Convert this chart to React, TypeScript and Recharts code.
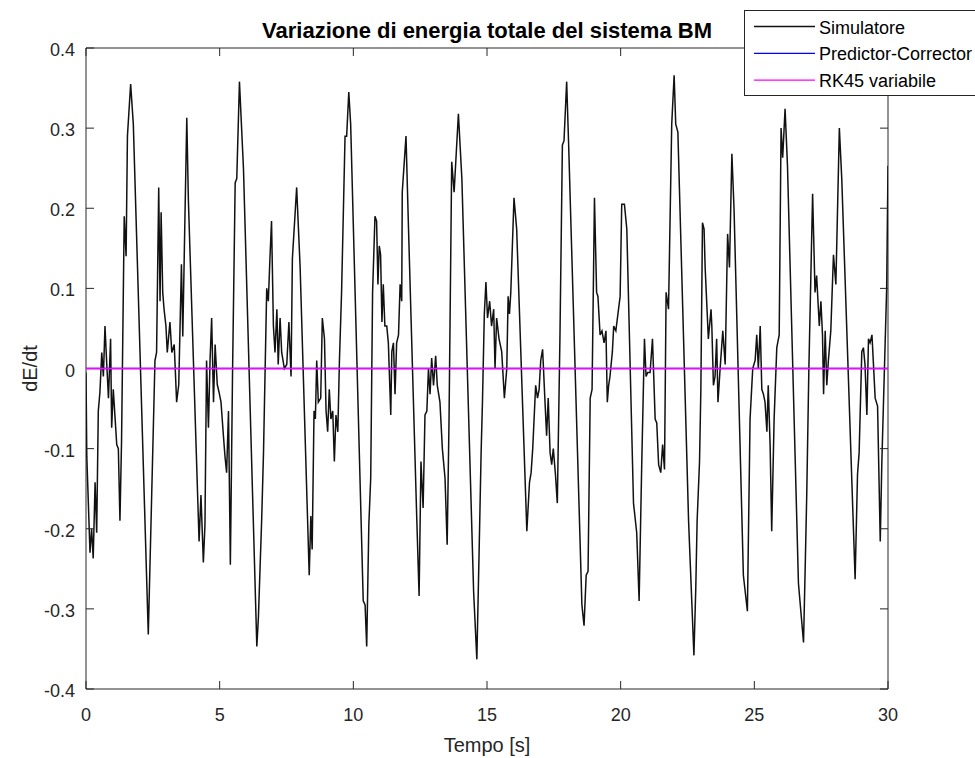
import React from "react";
import { LineChart, Line, XAxis, YAxis, Legend, Label, ReferenceArea } from "recharts";

// ---- data ----
const simTime = [
  0, 0.03, 0.15, 0.21, 0.27, 0.34, 0.4, 0.46, 0.52, 0.59, 0.65, 0.71, 0.77, 0.84, 0.92, 0.96, 1.02, 1.15, 1.21, 1.27, 1.33, 1.43, 1.5, 1.55, 1.67, 1.77, 2.33, 2.58, 2.64, 2.72, 2.77, 2.81, 2.87, 2.92, 2.99, 3.04, 3.14, 3.21, 3.3, 3.39, 3.47, 3.57, 3.62, 3.77,
  3.83, 4.23, 4.3, 4.39, 4.45, 4.51, 4.58, 4.64, 4.7, 4.77, 4.83, 4.91, 4.98, 5.05, 5.14, 5.2, 5.26, 5.33, 5.4, 5.48, 5.58, 5.64, 5.74, 5.89, 6.39, 6.45, 6.57, 6.64, 6.76, 6.82, 6.88, 6.94, 7.01, 7.07, 7.14, 7.19, 7.26, 7.32, 7.42, 7.51, 7.59, 7.67, 7.72,
  7.88, 8.01, 8.35, 8.41, 8.46, 8.53, 8.58, 8.63, 8.69, 8.78, 8.84, 8.92, 8.98, 9.04, 9.1, 9.16, 9.23, 9.29, 9.35, 9.42, 9.48, 9.56, 9.69, 9.75, 9.83, 9.9, 10.37, 10.44, 10.5, 10.58, 10.65, 10.72, 10.81, 10.87, 10.92, 10.97, 11.02, 11.07, 11.12, 11.18, 11.25, 11.31, 11.4, 11.44, 11.5, 11.56, 11.62, 11.69, 11.75,
  11.81, 11.83, 11.97, 12.06, 12.37, 12.46, 12.53, 12.61, 12.68, 12.75, 12.81, 12.87, 12.93, 13.0, 13.08, 13.14, 13.24, 13.33, 13.43, 13.51, 13.58, 13.68, 13.77, 13.93, 14.06, 14.5, 14.62, 14.71, 14.78, 14.83, 14.9, 14.96, 15.02, 15.1, 15.17, 15.25, 15.3, 15.36, 15.45, 15.55, 15.65,
  15.74, 15.79, 15.84, 15.89, 16.01, 16.11, 16.49, 16.59, 16.65, 16.71, 16.82, 16.89, 16.95, 17.01, 17.08, 17.17, 17.23, 17.29, 17.36, 17.42, 17.48, 17.56, 17.63, 17.73, 17.82, 17.88, 17.98, 18.05, 18.55, 18.63, 18.71, 18.78, 18.86, 18.93, 19.02, 19.1, 19.15, 19.23, 19.3, 19.38, 19.45, 19.5, 19.55,
  19.6, 19.69, 19.74, 19.82, 19.92, 19.98, 20.04, 20.14, 20.23, 20.48, 20.6, 20.69, 20.79, 20.89, 20.95, 21.01, 21.1, 21.19, 21.29, 21.35, 21.42, 21.5, 21.57, 21.64, 21.7, 21.79, 21.91, 22.0, 22.06, 22.14, 22.54, 22.74, 22.81, 22.86, 22.95, 23.0, 23.06, 23.12, 23.16, 23.28, 23.38,
  23.41, 23.47, 23.53, 23.59, 23.64, 23.72, 23.82, 23.91, 24.0, 24.07, 24.16, 24.24, 24.59, 24.74, 24.84, 24.94, 25.03, 25.09, 25.15, 25.22, 25.28, 25.34, 25.4, 25.47, 25.52, 25.59, 25.65, 25.74, 25.84, 25.93, 26.0, 26.06, 26.15, 26.24, 26.65, 26.84, 26.91, 26.96, 27.04, 27.18, 27.27, 27.33, 27.43,
  27.49, 27.55, 27.59, 27.65, 27.71, 27.77, 27.86, 27.96, 28.05, 28.18, 28.27, 28.77, 28.86, 28.92, 29.02, 29.08, 29.14, 29.21, 29.27, 29.33, 29.4, 29.52, 29.61, 29.71, 29.77, 29.95, 30.0,
];
const simValue = [
  -0.005, -0.11, -0.23, -0.2, -0.237, -0.142, -0.205, -0.053, -0.03, 0.02, -0.01, 0.053, 0.01, -0.037, 0.037, -0.074, -0.026, -0.095, -0.1, -0.19, -0.09, 0.19, 0.14, 0.29, 0.355, 0.305, -0.332, 0.01, 0.02, 0.226, 0.084, 0.195, 0.095, 0.074, 0.053, 0.02, 0.058, 0.02, 0.03, -0.042, -0.02, 0.13, 0.04, 0.313,
  0.21, -0.216, -0.158, -0.242, -0.195, 0.01, -0.074, 0.01, 0.063, -0.042, 0.03, -0.02, -0.03, -0.042, -0.084, -0.11, -0.13, -0.053, -0.245, -0.01, 0.232, 0.237, 0.358, 0.25, -0.347, -0.31, -0.19, -0.105, 0.1, 0.084, 0.137, 0.184, 0.053, 0.02, 0.074, 0.005, 0.063, 0.02, 0, 0.005, 0.058, -0.01, 0.137,
  0.226, 0.126, -0.258, -0.184, -0.226, -0.053, -0.063, 0.01, -0.042, -0.037, 0.063, 0.037, -0.053, -0.079, -0.026, -0.063, -0.053, -0.116, -0.058, -0.079, 0.01, 0.095, 0.29, 0.29, 0.345, 0.305, -0.29, -0.295, -0.347, -0.195, -0.137, 0.095, 0.19, 0.184, 0.105, 0.153, 0.142, 0.058, 0.105, 0.053, 0.053, 0.032, -0.058, 0.021, 0.032, -0.032, 0.032, 0.042, 0.105,
  0.084, 0.22, 0.29, 0.179, -0.184, -0.284, -0.116, -0.174, -0.058, -0.053, 0, -0.032, 0.013, -0.021, 0.016, -0.021, -0.042, -0.1, -0.137, -0.22, -0.063, 0.258, 0.22, 0.318, 0.237, -0.279, -0.363, -0.22, -0.105, -0.042, 0.068, 0.108, 0.063, 0.084, 0.053, 0.074, 0, 0.063, 0.037, 0.021, -0.037,
  0, 0.09, 0.068, 0.095, 0.213, 0.174, -0.203, -0.142, -0.13, -0.1, -0.021, -0.037, -0.026, 0.01, 0.024, -0.042, -0.084, -0.037, -0.105, -0.12, -0.1, -0.132, -0.168, 0.042, 0.279, 0.284, 0.358, 0.284, -0.295, -0.321, -0.258, -0.253, -0.037, -0.026, 0.213, 0.095, 0.09, 0.042, 0.047, 0.032, 0.047, -0.042, -0.021,
  -0.01, 0.021, 0.053, 0.047, 0.074, 0.09, 0.205, 0.205, 0.174, -0.168, -0.205, -0.29, -0.116, 0.037, -0.01, -0.005, -0.005, 0.037, -0.063, -0.068, -0.12, -0.13, -0.095, -0.126, 0.095, 0.074, 0.305, 0.366, 0.305, 0.295, -0.19, -0.358, -0.274, -0.19, -0.116, -0.026, 0.182, 0.174, 0.126, 0.037, 0.074,
  0.053, -0.021, -0.01, 0.037, -0.042, 0, 0.047, 0.005, 0.168, 0.126, 0.268, 0.2, -0.258, -0.303, -0.063, 0, 0.01, 0.042, 0, 0.053, -0.026, -0.032, -0.042, -0.079, -0.021, -0.095, -0.203, -0.063, 0.026, 0.042, 0.3, 0.263, 0.324, 0.253, -0.268, -0.342, -0.237, -0.158, 0, 0.218, 0.095, 0.116, 0.053,
  0.084, 0.042, -0.032, 0.047, -0.021, 0.01, 0.047, 0.142, 0.105, 0.3, 0.237, -0.263, -0.132, -0.105, 0.021, 0.026, 0.005, -0.058, 0.037, 0.032, 0.042, -0.037, -0.047, -0.216, -0.116, 0.1, 0.253,
];
const pcTime = [0, 30];
const pcValue = [0, 0];
const rkTime = [0, 30];
const rkValue = [0, 0];

const xTicks = [0, 5, 10, 15, 20, 25, 30];
const yTicks = [-0.4, -0.3, -0.2, -0.1, 0, 0.1, 0.2, 0.3, 0.4];
const xDomain = [0, 30];
const yDomain = [-0.4, 0.4];

const titleText = "Variazione di energia totale del sistema BM";
const xLabelText = "Tempo [s]";
const yLabelText = "dE/dt";
const seriesNames = ["Simulatore", "Predictor-Corrector", "RK45 variabile"];
const seriesColors = ["#111111", "#0000ff", "#ff00ff"];

// ---- build tables ----
const simData = simTime.map((t, i) => ({ t, v: simValue[i] }));
const pcData = pcTime.map((t, i) => ({ t, v: pcValue[i] }));
const rkData = rkTime.map((t, i) => ({ t, v: rkValue[i] }));

const FONT = "'Liberation Sans', Arial, Helvetica, sans-serif";
const AX = "#262626";
const TL = 8;

const fmtY = (v: number) => (Math.abs(v) < 1e-9 ? "0" : v.toFixed(1));
// the y=0 tick marks sit underneath the zero-valued series in the reference
const showYTickLine = (v: number) => Math.abs(v) > 1e-9;

const BottomTick = (p: any) => {
  const { x, y, payload } = p;
  return (
    <g>
      <line x1={x} y1={y} x2={x} y2={y - TL} stroke={AX} strokeWidth={1} />
      <text x={x} y={y + 32} textAnchor="middle" fontSize={18} fill={AX} fontFamily={FONT}>
        {String(payload.value)}
      </text>
    </g>
  );
};
const TopTick = (p: any) => {
  const { x, y } = p;
  return <line x1={x} y1={y} x2={x} y2={y + TL} stroke={AX} strokeWidth={1} />;
};
const LeftTick = (p: any) => {
  const { x, y, payload } = p;
  return (
    <g>
      {showYTickLine(payload.value) && <line x1={x} y1={y} x2={x + TL} y2={y} stroke={AX} strokeWidth={1} />}
      <text x={x - 11} y={y + 8} textAnchor="end" fontSize={18} fill={AX} fontFamily={FONT}>
        {fmtY(payload.value)}
      </text>
    </g>
  );
};
const RightTick = (p: any) => {
  const { x, y, payload } = p;
  if (!showYTickLine(payload.value)) return <g />;
  return <line x1={x} y1={y} x2={x - TL} y2={y} stroke={AX} strokeWidth={1} />;
};

const LegendBox = () => (
  <div
    style={{
      width: 231,
      height: 86,
      boxSizing: "border-box",
      border: `1px solid ${AX}`,
      borderRight: "none",
      background: "#fff",
    }}
  >
    <svg width={230} height={84} style={{ display: "block" }}>
      {seriesNames.map((name, i) => {
        const cy = 15.5 + i * 26.8;
        return (
          <g key={name}>
            <line x1={9} x2={70} y1={cy} y2={cy} stroke={seriesColors[i]} strokeWidth={1.3} />
            <text x={74} y={cy + 7} fontSize={18} fill="#000" fontFamily={FONT}>
              {name}
            </text>
          </g>
        );
      })}
    </svg>
  </div>
);

export default function App() {
  return (
    <div style={{ position: "absolute", left: 0, top: 0, background: "#fff" }}>
      <LineChart
        width={975}
        height={758}
        margin={{ top: 47, right: 86, bottom: 29, left: 36 }}
        style={{ fontFamily: FONT }}
      >
        <XAxis
          xAxisId="b"
          dataKey="t"
          type="number"
          domain={xDomain}
          ticks={xTicks}
          interval={0}
          height={40}
          tickSize={0}
          tickMargin={0}
          tickLine={false}
          axisLine={false}
          tick={<BottomTick />}
          allowDataOverflow
        >
          <Label
            content={(props: any) => {
              const vb = props.viewBox;
              return (
                <text x={vb.x + vb.width / 2} y={vb.y + 63} textAnchor="middle" fontSize={20} fill={AX} fontFamily={FONT}>
                  {xLabelText}
                </text>
              );
            }}
          />
        </XAxis>
        <XAxis
          xAxisId="top"
          orientation="top"
          dataKey="t"
          type="number"
          domain={xDomain}
          ticks={xTicks}
          interval={0}
          height={1}
          tickSize={0}
          tickMargin={0}
          tickLine={false}
          axisLine={false}
          tick={<TopTick />}
          allowDataOverflow
        >
          <Label
            content={(props: any) => {
              const vb = props.viewBox;
              return (
                <text x={vb.x + vb.width / 2} y={38} textAnchor="middle" fontSize={22} fontWeight="bold" fill="#000" fontFamily={FONT}>
                  {titleText}
                </text>
              );
            }}
          />
        </XAxis>
        <YAxis
          yAxisId="l"
          type="number"
          domain={yDomain}
          ticks={yTicks}
          interval={0}
          width={50}
          tickSize={0}
          tickMargin={0}
          tickLine={false}
          axisLine={false}
          tick={<LeftTick />}
          allowDataOverflow
        >
          <Label
            content={(props: any) => {
              const vb = props.viewBox;
              const cy = vb.y + vb.height / 2;
              return (
                <text x={37} y={cy} transform={`rotate(-90 37 ${cy})`} textAnchor="middle" fontSize={20} fill={AX} fontFamily={FONT}>
                  {yLabelText}
                </text>
              );
            }}
          />
        </YAxis>
        <YAxis
          yAxisId="r"
          orientation="right"
          type="number"
          domain={yDomain}
          ticks={yTicks}
          interval={0}
          width={1}
          tickSize={0}
          tickMargin={0}
          tickLine={false}
          axisLine={false}
          tick={<RightTick />}
          allowDataOverflow
        />
        <ReferenceArea
          xAxisId="b"
          yAxisId="l"
          x1={xDomain[0]}
          x2={xDomain[1]}
          y1={yDomain[0]}
          y2={yDomain[1]}
          fill="none"
          fillOpacity={0}
          stroke={AX}
          strokeWidth={1}
          ifOverflow="visible"
        />
        <Line
          xAxisId="b"
          yAxisId="l"
          data={simData}
          dataKey="v"
          name={seriesNames[0]}
          type="linear"
          stroke={seriesColors[0]}
          strokeWidth={1.5}
          dot={false}
          activeDot={false}
          isAnimationActive={false}
        />
        <Line
          xAxisId="top"
          yAxisId="r"
          data={pcData}
          dataKey="v"
          name={seriesNames[1]}
          type="linear"
          stroke={seriesColors[1]}
          strokeWidth={1.5}
          dot={false}
          activeDot={false}
          isAnimationActive={false}
        />
        <Line
          xAxisId="b"
          yAxisId="l"
          data={rkData}
          dataKey="v"
          name={seriesNames[2]}
          type="linear"
          stroke={seriesColors[2]}
          strokeWidth={1.5}
          dot={false}
          activeDot={false}
          isAnimationActive={false}
        />
        <Legend
          layout="vertical"
          align="center"
          verticalAlign="middle"
          content={<LegendBox />}
          wrapperStyle={{ position: "absolute", left: 744, top: 10, width: 231, height: 86 }}
        />
      </LineChart>
    </div>
  );
}
